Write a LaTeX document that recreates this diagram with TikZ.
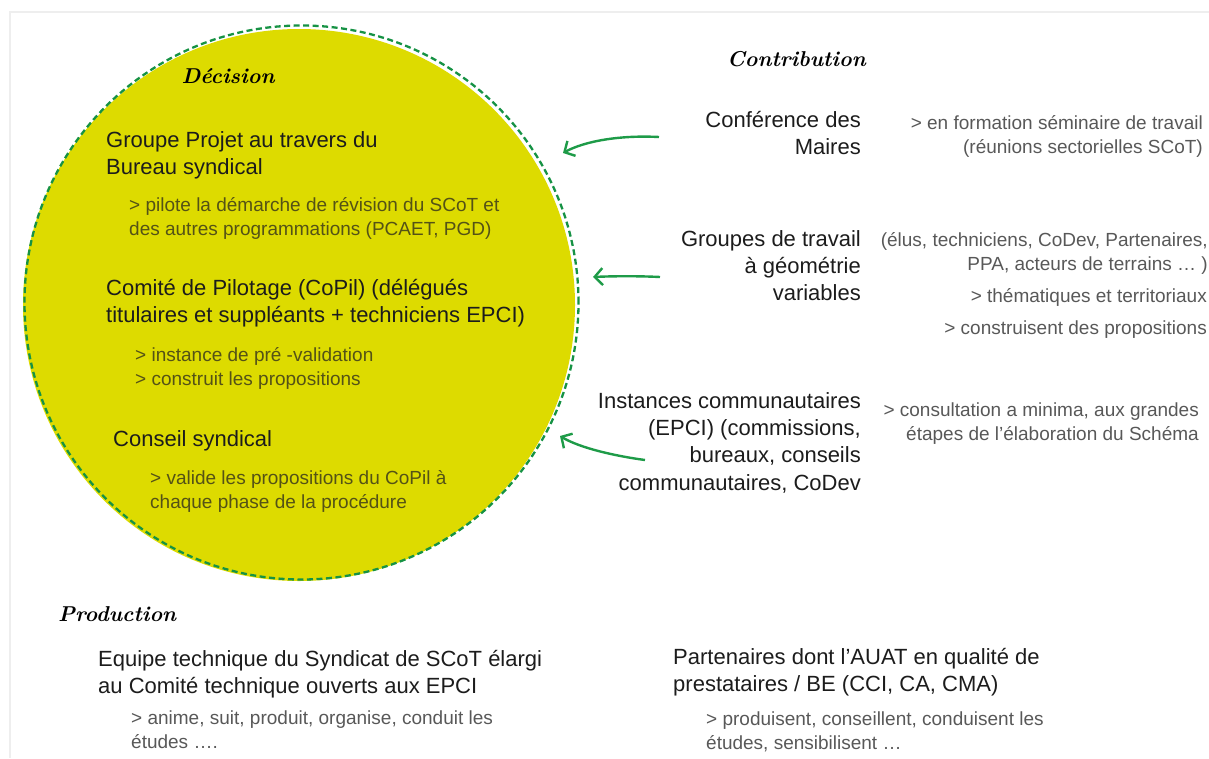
\documentclass[tikz,border=0pt]{standalone}
\usepackage{fontspec}
\newfontfamily\af{Liberation Sans}
\usetikzlibrary{arrows.meta}
\definecolor{blobyellow}{RGB}{221,219,0}
\definecolor{dgreen}{RGB}{22,146,68}
\definecolor{agreen}{RGB}{30,155,72}
\definecolor{maintext}{RGB}{28,28,28}
\definecolor{subgrey}{RGB}{88,88,88}
\definecolor{subolive}{RGB}{84,82,22}
\definecolor{framegrey}{RGB}{238,238,238}
\newcommand\mstr{\rule{0pt}{22pt}}
\newcommand\sstr{\rule{0pt}{19pt}}
\newcommand\hstr{\rule{0pt}{20pt}}
\begin{document}
\begin{tikzpicture}[x=1pt,y=-1pt,
  main/.style={font=\af\fontsize{22}{27.3}\selectfont, text=maintext, inner sep=0pt},
  sub/.style={font=\af\fontsize{19}{24.6}\selectfont, text=subgrey, inner sep=0pt},
  subin/.style={sub, text=subolive},
  head/.style={font=\fontsize{21.5}{26}\selectfont\bfseries\itshape, text=black, inner sep=0pt},
  arr/.style={draw=agreen, line width=2.4pt, -{Straight Barb[length=8pt,width=17pt]}},
]
\useasboundingbox (0,0) rectangle (1209,758);
% frame
\draw[framegrey, line width=1.6pt] (10,758) -- (10,12) -- (1209,12);
% blob
\node[circle, fill=blobyellow, minimum size=552pt, inner sep=0pt] (blob) at (299,305) {};
\node[circle, draw=dgreen, dash pattern=on 6pt off 3.5pt, line width=2.3pt, minimum size=554pt, inner sep=0pt] (ring) at (301.5,302.5) {};
% headings
\node[head, anchor=north] (hdec) at (228,63) {\hstr Décision};
\node[head, anchor=north west] (hcon) at (727,46) {\hstr Contribution};
\node[head, anchor=north west] (hprod) at (58,601) {\hstr Production};
% decision
\node[main, anchor=north west, align=left] (groupe) at (106,125) {\mstr Groupe Projet au travers du\\Bureau syndical};
\node[subin, anchor=north west, align=left] (pilote) at (129,192) {\sstr > pilote la démarche de révision du SCoT et\\des autres programmations (PCAET, PGD)};
\node[main, anchor=north west, align=left] (copil) at (106,273) {\mstr Comité de Pilotage (CoPil) (délégués\\titulaires et suppléants + techniciens EPCI)};
\node[subin, anchor=north west, align=left] (instance) at (135,342) {\sstr > instance de pré -validation\\> construit les propositions};
\node[main, anchor=north west, align=left] (conseil) at (113,424) {\mstr Conseil syndical};
\node[subin, anchor=north west, align=left] (valide) at (150,465) {\sstr > valide les propositions du CoPil à\\chaque phase de la procédure};
% contribution
\node[main, anchor=north east, align=right] (conf) at (861,105) {\mstr Conférence des\\Maires};
\node[sub, anchor=north east, align=right] (form) at (1203,110) {\sstr > en formation séminaire de travail\\(réunions sectorielles SCoT)};
\node[main, anchor=north east, align=right] (gt) at (861,224) {\mstr Groupes de travail\\à géométrie\\variables};
\node[sub, anchor=north east, align=right] (elus) at (1208,227) {\sstr (élus, techniciens, CoDev, Partenaires,\\PPA, acteurs de terrains … )};
\node[sub, anchor=north east] (them) at (1207,283) {\sstr > thématiques et territoriaux};
\node[sub, anchor=north east] (constr) at (1207,315) {\sstr > construisent des propositions};
\node[main, anchor=north east, align=right] (inst) at (861,386) {\mstr Instances communautaires\\(EPCI) (commissions,\\bureaux, conseils\\communautaires, CoDev};
\node[sub, anchor=north east, align=right] (consult) at (1199,397) {\sstr > consultation a minima, aux grandes\\étapes de l’élaboration du Schéma};
% production
\node[main, anchor=north west, align=left] (equipe) at (98,644) {\mstr Equipe technique du Syndicat de SCoT élargi\\au Comité technique ouverts aux EPCI};
\node[sub, anchor=north west, align=left] (anime) at (131,705) {\sstr > anime, suit, produit, organise, conduit les\\études ….};
\node[main, anchor=north west, align=left] (part) at (673,642) {\mstr Partenaires dont l’AUAT en qualité de\\prestataires / BE (CCI, CA, CMA)};
\node[sub, anchor=north west, align=left] (prod) at (706,706) {\sstr > produisent, conseillent, conduisent les\\études, sensibilisent …};
% arrows
\coordinate (a1s) at (659,137); \coordinate (a1e) at (563,153);
\coordinate (a2s) at (660,277); \coordinate (a2e) at (593,277);
\coordinate (a3s) at (645,460); \coordinate (a3e) at (560,436);
\draw[arr] (a1s) .. controls (620,135) and (585,141) .. (a1e);
\draw[arr] (a2s) .. controls (640,276) and (615,276) .. (a2e);
\draw[arr] (a3s) .. controls (615,456) and (580,448) .. (a3e);
\end{tikzpicture}
\end{document}
